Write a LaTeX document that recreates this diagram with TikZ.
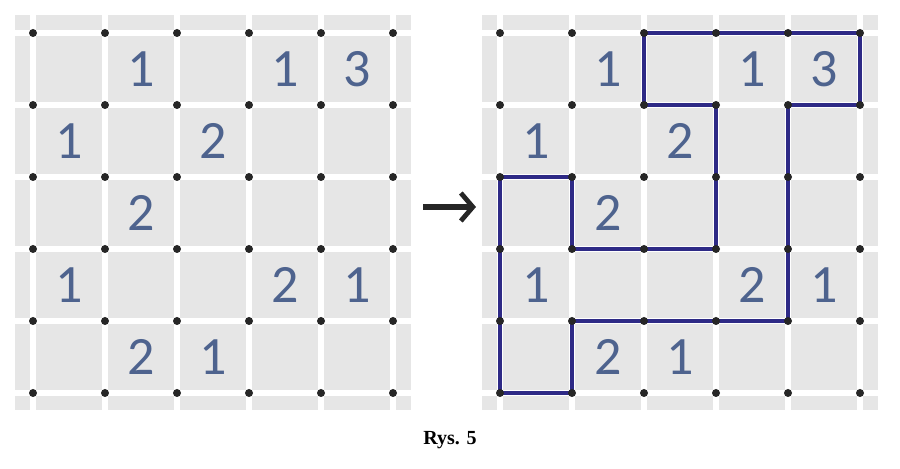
\documentclass[tikz,border=0pt]{standalone}
\usepackage{fontspec}
\setmainfont{Liberation Serif}
\newfontfamily\digitfont{Carlito}
\usetikzlibrary{arrows.meta}
\definecolor{cellgray}{HTML}{E6E6E6}
\definecolor{numblue}{HTML}{4E638E}
\definecolor{loopblue}{HTML}{2E2A86}
\tikzset{
  num/.style={font=\digitfont\fontsize{27}{27}\selectfont, text=numblue},
  dot/.style={circle, fill=black!85, inner sep=0pt, minimum size=4pt},
  gap/.style={white, line width=3pt},
  loopline/.style={loopblue, line width=1.6pt, line join=round}
}
\begin{document}
\begin{tikzpicture}[x=0.5pt, y=-0.5pt]
  \useasboundingbox (0,0) rectangle (900,469);
  \foreach \ox/\nm in {33/L, 500/R}{
    \fill[cellgray] (\ox-18, 15) rectangle (\ox+378, 410);
    \foreach \i in {0,...,5}{
      \draw[gap] (\ox+72*\i, 15) -- (\ox+72*\i, 410);
      \draw[gap] (\ox-18, 33+72*\i) -- (\ox+378, 33+72*\i);
    }
    % numbers
    \foreach \c/\r/\v [count=\k] in {1/0/1, 3/0/1, 4/0/3, 0/1/1, 2/1/2, 1/2/2,
                           0/3/1, 3/3/2, 4/3/1, 1/4/2, 2/4/1}
      \node[num] (n\nm\k) at (\ox+72*\c+36, 33+72*\r+36) {\v};
  }
  % the loop
  \draw[loopline] (500+144,33) -- (500+360,33) -- (500+360,105) -- (500+288,105)
    -- (500+288,321) -- (500+72,321) -- (500+72,393) -- (500,393) -- (500,177)
    -- (500+72,177) -- (500+72,249) -- (500+216,249) -- (500+216,105)
    -- (500+144,105) -- cycle;
  \foreach \ox/\nm in {33/L, 500/R}
    \foreach \i in {0,...,5}
      \foreach \j in {0,...,5}
        \node[dot] (d\nm\i\j) at (\ox+72*\i, 33+72*\j) {};
  \coordinate (arrS) at (423,207);
  \coordinate (arrE) at (476,207);
  \draw[-{Straight Barb[length=6pt,width=14pt,line width=2.4pt]}, line width=2.6pt, black!85] (arrS) -- (arrE);
  \node[font=\fontsize{10}{12}\selectfont\bfseries] (cap) at (450,440) {Rys. 5};
\end{tikzpicture}
\end{document}
